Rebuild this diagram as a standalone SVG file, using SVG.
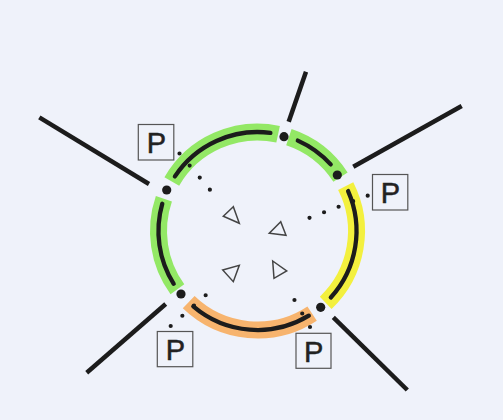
<svg xmlns="http://www.w3.org/2000/svg" width="503" height="420" viewBox="0 0 503 420">
  <style>
    .bg { fill: #eff2fa; }
    .hl { fill: none; stroke-linecap: butt; }
    .green { stroke: #93e865; }
    .yellow { stroke: #f3f03e; }
    .orange { stroke: #f7b46e; }
    .seg { fill: none; stroke: #1c1c1c; stroke-linecap: round; }
    .spoke { stroke: #1c1c1c; stroke-width: 4.5; stroke-linecap: butt; }
    .dot { fill: #1c1c1c; }
    .box { fill: none; stroke: #555; stroke-width: 1.2; }
    .lbl { font-family: "Liberation Sans", Arial, sans-serif; font-size: 29px; fill: #222; stroke: #222; stroke-width: 0.5; text-anchor: middle; }
    .dotted { fill: none; stroke: #1c1c1c; stroke-width: 4.2; stroke-linecap: round; }
    .tri { fill: none; stroke: #444; stroke-width: 1.5; stroke-linejoin: miter; }
  </style>

  <rect class="bg" x="0" y="0" width="503" height="420"/>

  <!-- ring: highlighter bands under the black arc segments (centre 257.5,231 r 99) -->
  <g id="ring">
    <g stroke-width="17">
      <path class="hl green" d="M171.8,181.5 A99,99 0 0 1 278.1,134.2"/>
      <path class="hl green" d="M288.9,137.1 A99,99 0 0 1 340.5,177.1"/>
      <path class="hl yellow" d="M345.7,186.1 A99,99 0 0 1 325.7,302.8"/>
      <path class="hl orange" d="M312.1,313.6 A99,99 0 0 1 188.7,302.2"/>
      <path class="hl green" d="M177.4,289.2 A99,99 0 0 1 163.9,198.8"/>
    </g>
    <g stroke-width="4.3">
      <path class="seg" d="M174.9,176.4 A99,99 0 0 1 270.4,132.9"/>
      <path class="seg" d="M297.8,140.6 A99,99 0 0 1 330.7,164.4"/>
      <path class="seg" d="M348.1,191.1 A99,99 0 0 1 330.8,297.5"/>
      <path class="seg" d="M308.8,315.7 A99,99 0 0 1 193.3,306.4"/>
      <path class="seg" d="M173.7,283.8 A99,99 0 0 1 162.3,203.7"/>
    </g>
  </g>

  <!-- connectors: dotted leaders from the P labels to the inner triangles -->
  <g id="connectors">
    <line class="dotted" x1="179.5" y1="153.5" x2="220" y2="201.7" stroke-dasharray="0 15.74"/>
    <line class="dotted" x1="367.7" y1="195.7" x2="295" y2="223.3" stroke-dasharray="0 15.56"/>
    <line class="dotted" x1="170.7" y1="326" x2="217.3" y2="285" stroke-dasharray="0 15.52"/>
    <line class="dotted" x1="310" y1="327" x2="286.7" y2="286.5" stroke-dasharray="0 15.58"/>

    <polygon class="tri" points="233.3,206.7 223.3,216.3 239.3,223.3"/>
    <polygon class="tri" points="280.7,221.7 269.3,233.3 286,235.3"/>
    <polygon class="tri" points="222.7,270 239.3,265.3 233.3,281.7"/>
    <polygon class="tri" points="272.7,261 286.7,271 274,278.3"/>
  </g>

  <!-- junctions on the ring with their outward spokes -->
  <g id="node-a">
    <line class="spoke" x1="39.3" y1="117.3" x2="149" y2="184"/>
    <circle class="dot" cx="166.7" cy="190" r="4.6"/>
  </g>
  <g id="node-b">
    <line class="spoke" x1="306" y1="71.7" x2="288.7" y2="121.7"/>
    <circle class="dot" cx="284" cy="136.7" r="4.6"/>
  </g>
  <g id="node-c">
    <line class="spoke" x1="461.7" y1="106" x2="353.3" y2="166.7"/>
    <circle class="dot" cx="337.3" cy="175" r="4.6"/>
  </g>
  <g id="node-d">
    <line class="spoke" x1="333.3" y1="317.3" x2="407.3" y2="390"/>
    <circle class="dot" cx="320.7" cy="307.3" r="4.6"/>
  </g>
  <g id="node-e">
    <line class="spoke" x1="165.7" y1="304" x2="86.7" y2="372.7"/>
    <circle class="dot" cx="181" cy="294" r="4.6"/>
  </g>

  <!-- P labels -->
  <g id="p-top-left">
    <rect class="box" x="138.3" y="124.5" width="35.5" height="35.5"/>
    <text class="lbl" x="156.5" y="153.3">P</text>
  </g>
  <g id="p-right">
    <rect class="box" x="372.5" y="174.5" width="35.3" height="35.5"/>
    <text class="lbl" x="390.5" y="203.3">P</text>
  </g>
  <g id="p-bottom-left">
    <rect class="box" x="157.3" y="331.5" width="35.5" height="35.2"/>
    <text class="lbl" x="175.3" y="360">P</text>
  </g>
  <g id="p-bottom-right">
    <rect class="box" x="296" y="333.3" width="35" height="35"/>
    <text class="lbl" x="313.7" y="361.7">P</text>
  </g>
</svg>
